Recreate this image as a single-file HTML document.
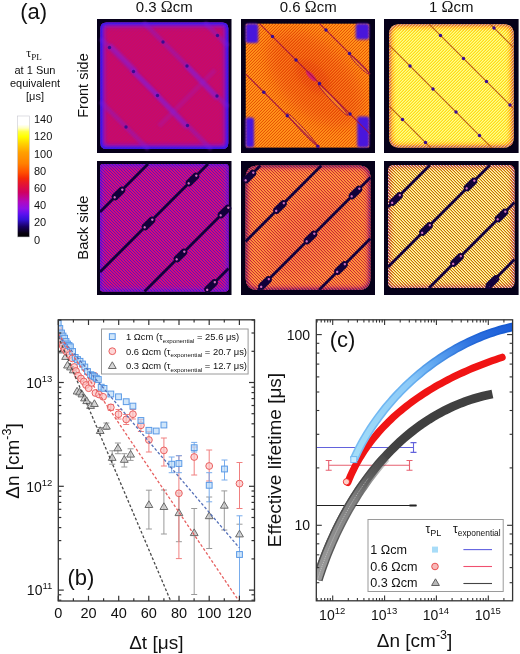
<!DOCTYPE html>
<html><head><meta charset="utf-8"><style>
html,body{margin:0;padding:0;background:#fff;}
svg{display:block;}
text{filter:none;}
.gs{will-change:transform;opacity:0.999;}
</style></head><body>
<svg class="gs" width="520" height="654" viewBox="0 0 520 654">
<defs>
<linearGradient id="cbar" x1="0" y1="1" x2="0" y2="0"><stop offset="0" stop-color="#000000"/><stop offset="0.03" stop-color="#06000f"/><stop offset="0.085" stop-color="#180060"/><stop offset="0.145" stop-color="#3412d8"/><stop offset="0.19" stop-color="#5c10f0"/><stop offset="0.235" stop-color="#8c10e8"/><stop offset="0.29" stop-color="#b008c0"/><stop offset="0.37" stop-color="#d00060"/><stop offset="0.45" stop-color="#e81828"/><stop offset="0.485" stop-color="#f42808"/><stop offset="0.535" stop-color="#ff5000"/><stop offset="0.608" stop-color="#ff8000"/><stop offset="0.7" stop-color="#ffa000"/><stop offset="0.77" stop-color="#ffd000"/><stop offset="0.83" stop-color="#ffff00"/><stop offset="0.87" stop-color="#ffff40"/><stop offset="0.9" stop-color="#ffffc0"/><stop offset="0.93" stop-color="#ffffff"/><stop offset="1" stop-color="#ffffff"/></linearGradient>
<filter id="b1" x="-20%" y="-20%" width="140%" height="140%"><feGaussianBlur stdDeviation="1"/></filter>
<filter id="b2" x="-20%" y="-20%" width="140%" height="140%"><feGaussianBlur stdDeviation="2"/></filter>
<filter id="b3" x="-20%" y="-20%" width="140%" height="140%"><feGaussianBlur stdDeviation="3"/></filter>
<filter id="b8" x="-50%" y="-50%" width="200%" height="200%"><feGaussianBlur stdDeviation="8"/></filter>
<filter id="b06" x="-20%" y="-20%" width="140%" height="140%"><feGaussianBlur stdDeviation="0.6"/></filter>
<pattern id="sf1" x="0" y="0" width="3" height="3" patternUnits="userSpaceOnUse"><rect x="0" y="0" width="1" height="1" fill="#8818c0" fill-opacity="0.12"/><rect x="1" y="2" width="1" height="1" fill="#8818c0" fill-opacity="0.12"/><rect x="2" y="1" width="1" height="1" fill="#8818c0" fill-opacity="0.12"/></pattern><pattern id="sf2" x="0" y="0" width="3" height="3" patternUnits="userSpaceOnUse"><rect x="0" y="0" width="1" height="1" fill="#e04000" fill-opacity="0.75"/><rect x="0" y="1" width="1" height="1" fill="#ffb030" fill-opacity="0.35"/><rect x="1" y="0" width="1" height="1" fill="#ffb030" fill-opacity="0.35"/><rect x="1" y="2" width="1" height="1" fill="#e04000" fill-opacity="0.75"/><rect x="2" y="1" width="1" height="1" fill="#e04000" fill-opacity="0.75"/><rect x="2" y="2" width="1" height="1" fill="#ffb030" fill-opacity="0.35"/></pattern><pattern id="sf3" x="0" y="0" width="3" height="3" patternUnits="userSpaceOnUse"><rect x="0" y="0" width="1" height="1" fill="#ffc400" fill-opacity="0.6"/><rect x="0" y="1" width="1" height="1" fill="#ffffc0" fill-opacity="0.6"/><rect x="1" y="0" width="1" height="1" fill="#ffffc0" fill-opacity="0.6"/><rect x="1" y="2" width="1" height="1" fill="#ffc400" fill-opacity="0.6"/><rect x="2" y="1" width="1" height="1" fill="#ffc400" fill-opacity="0.6"/><rect x="2" y="2" width="1" height="1" fill="#ffffc0" fill-opacity="0.6"/></pattern><pattern id="sb1" x="0" y="0" width="3" height="3" patternUnits="userSpaceOnUse"><rect x="0" y="0" width="1" height="1" fill="#4a10c8" fill-opacity="0.8"/><rect x="0" y="2" width="1" height="1" fill="#e01070" fill-opacity="0.45"/><rect x="1" y="0" width="1" height="1" fill="#e01070" fill-opacity="0.45"/><rect x="1" y="1" width="1" height="1" fill="#4a10c8" fill-opacity="0.8"/><rect x="2" y="1" width="1" height="1" fill="#e01070" fill-opacity="0.45"/><rect x="2" y="2" width="1" height="1" fill="#4a10c8" fill-opacity="0.8"/></pattern><pattern id="sb2" x="0" y="0" width="3" height="3" patternUnits="userSpaceOnUse"><rect x="0" y="0" width="1" height="1" fill="#c01438" fill-opacity="0.85"/><rect x="0" y="2" width="1" height="1" fill="#ffa850" fill-opacity="0.5"/><rect x="1" y="0" width="1" height="1" fill="#ffa850" fill-opacity="0.5"/><rect x="1" y="1" width="1" height="1" fill="#c01438" fill-opacity="0.85"/><rect x="2" y="1" width="1" height="1" fill="#ffa850" fill-opacity="0.5"/><rect x="2" y="2" width="1" height="1" fill="#c01438" fill-opacity="0.85"/></pattern><pattern id="sb3" x="0" y="0" width="3" height="3" patternUnits="userSpaceOnUse"><rect x="0" y="0" width="1" height="1" fill="#b86810" fill-opacity="0.95"/><rect x="0" y="2" width="1" height="1" fill="#fffce0" fill-opacity="0.8"/><rect x="1" y="0" width="1" height="1" fill="#fffce0" fill-opacity="0.8"/><rect x="1" y="1" width="1" height="1" fill="#b86810" fill-opacity="0.95"/><rect x="2" y="1" width="1" height="1" fill="#fffce0" fill-opacity="0.8"/><rect x="2" y="2" width="1" height="1" fill="#b86810" fill-opacity="0.95"/></pattern><clipPath id="cp0"><path d="M9.4,3.4 H125.30000000000001 Q131.3,3.4 131.3,9.4 V124.0 Q131.3,130.0 125.30000000000001,130.0 H9.4 Q3.4,130.0 3.4,124.0 V9.4 Q3.4,3.4 9.4,3.4 Z"/></clipPath><clipPath id="cp1"><path d="M5.8,4.8 H127.19999999999999 Q128.2,4.8 128.2,5.8 V127.5 Q128.2,128.5 127.19999999999999,128.5 H5.8 Q4.8,128.5 4.8,127.5 V5.8 Q4.8,4.8 5.8,4.8 Z"/></clipPath><clipPath id="cp2"><path d="M15.2,5.2 H119.6 Q129.6,5.2 129.6,15.2 V118.5 Q129.6,128.5 119.6,128.5 H15.2 Q5.2,128.5 5.2,118.5 V15.2 Q5.2,5.2 15.2,5.2 Z"/></clipPath><clipPath id="cp3"><path d="M6.0,3.0 H128.5 Q131.5,3.0 131.5,6.0 V127.5 Q131.5,130.5 128.5,130.5 H6.0 Q3.0,130.5 3.0,127.5 V6.0 Q3.0,3.0 6.0,3.0 Z"/></clipPath><clipPath id="cp4"><path d="M16.6,4.6 H117.4 Q129.4,4.6 129.4,16.6 V117.0 Q129.4,129.0 117.4,129.0 H16.6 Q4.6,129.0 4.6,117.0 V16.6 Q4.6,4.6 16.6,4.6 Z"/></clipPath><clipPath id="cp5"><path d="M10.0,4.0 H124.4 Q130.4,4.0 130.4,10.0 V121.0 Q130.4,127.0 124.4,127.0 H10.0 Q4.0,127.0 4.0,121.0 V10.0 Q4.0,4.0 10.0,4.0 Z"/></clipPath><linearGradient id="bgrad" gradientUnits="userSpaceOnUse" x1="354" y1="460" x2="512" y2="326"><stop offset="0" stop-color="#7cc0f4"/><stop offset="0.45" stop-color="#68b0f0"/><stop offset="0.62" stop-color="#4890e4"/><stop offset="0.8" stop-color="#2468d8"/><stop offset="1" stop-color="#1458d0"/></linearGradient><linearGradient id="bgrad2" gradientUnits="userSpaceOnUse" x1="354" y1="460" x2="512" y2="326"><stop offset="0" stop-color="#a4def8"/><stop offset="0.45" stop-color="#8ccaf8"/><stop offset="0.62" stop-color="#5aa2f0"/><stop offset="0.8" stop-color="#2e72e0"/><stop offset="1" stop-color="#1a5cd8"/></linearGradient><linearGradient id="ggrad" gradientUnits="userSpaceOnUse" x1="318" y1="575" x2="400" y2="440"><stop offset="0" stop-color="#606060"/><stop offset="0.6" stop-color="#505050"/><stop offset="1" stop-color="#404040"/></linearGradient><linearGradient id="ggrad3" gradientUnits="userSpaceOnUse" x1="318" y1="575" x2="400" y2="445"><stop offset="0" stop-color="#505050" stop-opacity="1"/><stop offset="0.6" stop-color="#4a4a4a" stop-opacity="0.8"/><stop offset="1" stop-color="#444" stop-opacity="0"/></linearGradient><linearGradient id="ggrad2" gradientUnits="userSpaceOnUse" x1="318" y1="575" x2="395" y2="445"><stop offset="0" stop-color="#9a9a9a" stop-opacity="1"/><stop offset="0.55" stop-color="#8a8a8a" stop-opacity="0.85"/><stop offset="1" stop-color="#505050" stop-opacity="0"/></linearGradient></defs>
<rect width="520" height="654" fill="#fff"/>
<g transform="translate(97,19)"><rect x="0" y="0" width="134.5" height="134" fill="#06001a"/><path d="M9.4,3.4 H125.30000000000001 Q131.3,3.4 131.3,9.4 V124.0 Q131.3,130.0 125.30000000000001,130.0 H9.4 Q3.4,130.0 3.4,124.0 V9.4 Q3.4,3.4 9.4,3.4 Z" fill="#c80a68"/><g clip-path="url(#cp0)"><path d="M9.4,3.4 H125.30000000000001 Q131.3,3.4 131.3,9.4 V124.0 Q131.3,130.0 125.30000000000001,130.0 H9.4 Q3.4,130.0 3.4,124.0 V9.4 Q3.4,3.4 9.4,3.4 Z" fill="none" stroke="#7418dc" stroke-width="8.16" filter="url(#b2)"/><path d="M9.4,3.4 H125.30000000000001 Q131.3,3.4 131.3,9.4 V124.0 Q131.3,130.0 125.30000000000001,130.0 H9.4 Q3.4,130.0 3.4,124.0 V9.4 Q3.4,3.4 9.4,3.4 Z" fill="none" stroke="#2a18ec" stroke-width="3.4" filter="url(#b1)"/><rect x="0" y="0" width="134.5" height="134" fill="url(#sf1)"/></g><line x1="59.8" y1="76.4" x2="89" y2="107.3" stroke="#8020e8" stroke-width="5" opacity="0.4" stroke-linecap="round" filter="url(#b1)"/><line x1="89.9" y1="47.2" x2="119.1" y2="78.2" stroke="#8020e8" stroke-width="5" opacity="0.4" stroke-linecap="round" filter="url(#b1)"/><line x1="14" y1="27" x2="38" y2="51" stroke="#8020e8" stroke-width="5" opacity="0.4" stroke-linecap="round" filter="url(#b1)"/><line x1="36" y1="52" x2="60" y2="76" stroke="#8020e8" stroke-width="5" opacity="0.4" stroke-linecap="round" filter="url(#b1)"/><line x1="62" y1="107" x2="118" y2="51" stroke="#8a20e0" stroke-width="5" opacity="0.22" filter="url(#b1)"/><line x1="3.4" y1="82.4" x2="51.6" y2="130.6" stroke="#7a1ce0" stroke-width="4.5" opacity="0.38" filter="url(#b1)"/><circle cx="29.0" cy="108.0" r="1.7" fill="#3a0c90"/><line x1="3.4" y1="19.4" x2="114.6" y2="130.6" stroke="#7a1ce0" stroke-width="4.5" opacity="0.38" filter="url(#b1)"/><circle cx="12.5" cy="28.5" r="1.7" fill="#3a0c90"/><circle cx="36.5" cy="52.5" r="1.7" fill="#3a0c90"/><circle cx="60.5" cy="76.5" r="1.7" fill="#3a0c90"/><circle cx="90.5" cy="106.5" r="1.7" fill="#3a0c90"/><line x1="46.4" y1="3.4" x2="131.1" y2="88.1" stroke="#7a1ce0" stroke-width="4.5" opacity="0.38" filter="url(#b1)"/><circle cx="66.0" cy="23.0" r="1.7" fill="#3a0c90"/><circle cx="90.0" cy="47.0" r="1.7" fill="#3a0c90"/><circle cx="120.0" cy="77.0" r="1.7" fill="#3a0c90"/><line x1="107.4" y1="3.4" x2="131.1" y2="27.1" stroke="#7a1ce0" stroke-width="4.5" opacity="0.38" filter="url(#b1)"/><circle cx="120.5" cy="16.5" r="1.7" fill="#3a0c90"/></g><g transform="translate(241,19)"><rect x="0" y="0" width="134" height="134" fill="#06001a"/><path d="M5.8,4.8 H127.19999999999999 Q128.2,4.8 128.2,5.8 V127.5 Q128.2,128.5 127.19999999999999,128.5 H5.8 Q4.8,128.5 4.8,127.5 V5.8 Q4.8,4.8 5.8,4.8 Z" fill="#ff8a14"/><g clip-path="url(#cp1)"><ellipse cx="74" cy="60" rx="60" ry="34" transform="rotate(45 74 60)" fill="#e83010" opacity="0.5" filter="url(#b8)"/><ellipse cx="72" cy="58" rx="22" ry="12" transform="rotate(45 72 58)" fill="#e02810" opacity="0.45" filter="url(#b3)"/><rect x="0" y="0" width="134" height="134" fill="url(#sf2)"/></g><ellipse cx="92.1" cy="81.0" rx="21.2" ry="1.7" transform="rotate(46.5 92.1 81.0)" fill="#ffa030" fill-opacity="0.5" stroke="#a01840" stroke-width="0.9"/><ellipse cx="60.9" cy="110.2" rx="22.0" ry="1.7" transform="rotate(47.1 60.9 110.2)" fill="#ffa030" fill-opacity="0.5" stroke="#a01840" stroke-width="0.9"/><ellipse cx="118.8" cy="45.8" rx="13.1" ry="1.7" transform="rotate(45.0 118.8 45.8)" fill="#ffa030" fill-opacity="0.5" stroke="#a01840" stroke-width="0.9"/><ellipse cx="70" cy="57" rx="7" ry="2.6" transform="rotate(47 70 57)" fill="#d01880" opacity="0.8" filter="url(#b06)"/><rect x="4.5" y="4.5" width="12.7" height="19.5" rx="2.5" fill="#4a18dc" filter="url(#b1)"/><rect x="114.69999999999999" y="4.5" width="13.5" height="16" rx="2.5" fill="#4a18dc" filter="url(#b1)"/><rect x="4.5" y="98.5" width="8.5" height="30" rx="2.5" fill="#4a18dc" filter="url(#b1)"/><rect x="116.19999999999999" y="97.5" width="12" height="31" rx="2.5" fill="#4a18dc" filter="url(#b1)"/><line x1="4.8" y1="55.2" x2="78.8" y2="129.2" stroke="#a01040" stroke-width="1.1" opacity="0.9"/><circle cx="22.8" cy="73.2" r="1.7" fill="#3a0c90"/><circle cx="46.3" cy="96.7" r="1.7" fill="#3a0c90"/><circle cx="76.8" cy="127.2" r="1.7" fill="#3a0c90"/><line x1="18.8" y1="4.8" x2="129.2" y2="115.2" stroke="#a01040" stroke-width="1.1" opacity="0.9"/><circle cx="31.5" cy="17.5" r="1.7" fill="#3a0c90"/><circle cx="55.0" cy="41.0" r="1.7" fill="#3a0c90"/><circle cx="78.5" cy="64.5" r="1.7" fill="#3a0c90"/><circle cx="109.0" cy="95.0" r="1.7" fill="#3a0c90"/><line x1="78.8" y1="4.8" x2="129.2" y2="55.2" stroke="#a01040" stroke-width="1.1" opacity="0.9"/><circle cx="85.0" cy="11.0" r="1.7" fill="#3a0c90"/><circle cx="108.5" cy="34.5" r="1.7" fill="#3a0c90"/></g><g transform="translate(384,19)"><rect x="0" y="0" width="134.6" height="134" fill="#06001a"/><path d="M15.2,5.2 H119.6 Q129.6,5.2 129.6,15.2 V118.5 Q129.6,128.5 119.6,128.5 H15.2 Q5.2,128.5 5.2,118.5 V15.2 Q5.2,5.2 15.2,5.2 Z" fill="#fff448"/><g clip-path="url(#cp2)"><path d="M15.2,5.2 H119.6 Q129.6,5.2 129.6,15.2 V118.5 Q129.6,128.5 119.6,128.5 H15.2 Q5.2,128.5 5.2,118.5 V15.2 Q5.2,5.2 15.2,5.2 Z" fill="none" stroke="#ff8010" stroke-width="7.68" filter="url(#b2)"/><path d="M15.2,5.2 H119.6 Q129.6,5.2 129.6,15.2 V118.5 Q129.6,128.5 119.6,128.5 H15.2 Q5.2,128.5 5.2,118.5 V15.2 Q5.2,5.2 15.2,5.2 Z" fill="none" stroke="#8018b0" stroke-width="1.7600000000000002" filter="url(#b1)"/><rect x="0" y="0" width="134.6" height="134" fill="url(#sf3)"/></g><line x1="5.2" y1="87.2" x2="46.8" y2="128.8" stroke="#b05010" stroke-width="1.1" opacity="0.9"/><circle cx="18.5" cy="100.5" r="1.7" fill="#3a0c90"/><circle cx="41.5" cy="123.5" r="1.7" fill="#3a0c90"/><line x1="5.2" y1="26.2" x2="107.8" y2="128.8" stroke="#b05010" stroke-width="1.1" opacity="0.9"/><circle cx="26.0" cy="47.0" r="1.7" fill="#3a0c90"/><circle cx="49.0" cy="70.0" r="1.7" fill="#3a0c90"/><circle cx="72.0" cy="93.0" r="1.7" fill="#3a0c90"/><circle cx="95.5" cy="116.5" r="1.7" fill="#3a0c90"/><line x1="45.2" y1="5.2" x2="129.4" y2="89.4" stroke="#b05010" stroke-width="1.1" opacity="0.9"/><circle cx="56.5" cy="16.5" r="1.7" fill="#3a0c90"/><circle cx="79.5" cy="39.5" r="1.7" fill="#3a0c90"/><circle cx="102.5" cy="62.5" r="1.7" fill="#3a0c90"/><circle cx="126.0" cy="86.0" r="1.7" fill="#3a0c90"/><line x1="106.2" y1="5.2" x2="129.4" y2="28.4" stroke="#b05010" stroke-width="1.1" opacity="0.9"/><circle cx="110.0" cy="9.0" r="1.7" fill="#3a0c90"/></g><g transform="translate(97,161)"><rect x="0" y="0" width="134.5" height="134" fill="#06001a"/><path d="M6.0,3.0 H128.5 Q131.5,3.0 131.5,6.0 V127.5 Q131.5,130.5 128.5,130.5 H6.0 Q3.0,130.5 3.0,127.5 V6.0 Q3.0,3.0 6.0,3.0 Z" fill="#d00c7c"/><g clip-path="url(#cp3)"><path d="M6.0,3.0 H128.5 Q131.5,3.0 131.5,6.0 V127.5 Q131.5,130.5 128.5,130.5 H6.0 Q3.0,130.5 3.0,127.5 V6.0 Q3.0,3.0 6.0,3.0 Z" fill="none" stroke="#8a14d8" stroke-width="6.0" filter="url(#b2)"/><path d="M6.0,3.0 H128.5 Q131.5,3.0 131.5,6.0 V127.5 Q131.5,130.5 128.5,130.5 H6.0 Q3.0,130.5 3.0,127.5 V6.0 Q3.0,3.0 6.0,3.0 Z" fill="none" stroke="#5a10e0" stroke-width="2.5" filter="url(#b1)"/><rect x="0" y="0" width="134.5" height="134" fill="url(#sb1)"/></g><line x1="3.0" y1="51.0" x2="51.0" y2="3.0" stroke="#12003c" stroke-width="2.8"/><g transform="translate(21.5,32.5) rotate(-45)"><rect x="-8" y="-3.5" width="16" height="7" rx="3.3" fill="#12003a"/><circle cx="-5.4" cy="0" r="1.2" fill="#d070c0"/><circle cx="5.4" cy="0" r="1.2" fill="#d070c0"/></g><line x1="3.0" y1="111.0" x2="111.0" y2="3.0" stroke="#12003c" stroke-width="2.8"/><g transform="translate(51.5,62.5) rotate(-45)"><rect x="-8" y="-3.5" width="16" height="7" rx="3.3" fill="#12003a"/><circle cx="-5.4" cy="0" r="1.2" fill="#d070c0"/><circle cx="5.4" cy="0" r="1.2" fill="#d070c0"/></g><g transform="translate(95.5,18.5) rotate(-45)"><rect x="-8" y="-3.5" width="16" height="7" rx="3.3" fill="#12003a"/><circle cx="-5.4" cy="0" r="1.2" fill="#d070c0"/><circle cx="5.4" cy="0" r="1.2" fill="#d070c0"/></g><line x1="47.5" y1="130.5" x2="131.5" y2="46.5" stroke="#12003c" stroke-width="2.8"/><g transform="translate(83.5,94.5) rotate(-45)"><rect x="-8" y="-3.5" width="16" height="7" rx="3.3" fill="#12003a"/><circle cx="-5.4" cy="0" r="1.2" fill="#d070c0"/><circle cx="5.4" cy="0" r="1.2" fill="#d070c0"/></g><g transform="translate(127.5,50.5) rotate(-45)"><rect x="-8" y="-3.5" width="16" height="7" rx="3.3" fill="#12003a"/><circle cx="-5.4" cy="0" r="1.2" fill="#d070c0"/><circle cx="5.4" cy="0" r="1.2" fill="#d070c0"/></g><line x1="108.5" y1="130.5" x2="131.5" y2="107.5" stroke="#12003c" stroke-width="2.8"/><g transform="translate(114.0,125.0) rotate(-45)"><rect x="-8" y="-3.5" width="16" height="7" rx="3.3" fill="#12003a"/><circle cx="-5.4" cy="0" r="1.2" fill="#d070c0"/><circle cx="5.4" cy="0" r="1.2" fill="#d070c0"/></g></g><g transform="translate(241,161)"><rect x="0" y="0" width="134" height="134" fill="#06001a"/><path d="M16.6,4.6 H117.4 Q129.4,4.6 129.4,16.6 V117.0 Q129.4,129.0 117.4,129.0 H16.6 Q4.6,129.0 4.6,117.0 V16.6 Q4.6,4.6 16.6,4.6 Z" fill="#ff8c34"/><g clip-path="url(#cp4)"><path d="M16.6,4.6 H117.4 Q129.4,4.6 129.4,16.6 V117.0 Q129.4,129.0 117.4,129.0 H16.6 Q4.6,129.0 4.6,117.0 V16.6 Q4.6,4.6 16.6,4.6 Z" fill="none" stroke="#c02070" stroke-width="6.0" filter="url(#b2)"/><path d="M16.6,4.6 H117.4 Q129.4,4.6 129.4,16.6 V117.0 Q129.4,129.0 117.4,129.0 H16.6 Q4.6,129.0 4.6,117.0 V16.6 Q4.6,4.6 16.6,4.6 Z" fill="none" stroke="#3a0c70" stroke-width="2.5" filter="url(#b1)"/><ellipse cx="66" cy="74" rx="50" ry="30" transform="rotate(-45 66 74)" fill="#e02048" opacity="0.22" filter="url(#b8)"/><rect x="0" y="0" width="134" height="134" fill="url(#sb2)"/></g><line x1="4.6" y1="19.4" x2="19.4" y2="4.6" stroke="#12003c" stroke-width="2.8"/><g transform="translate(8.5,15.5) rotate(-45)"><rect x="-8" y="-3.5" width="16" height="7" rx="3.3" fill="#12003a"/><circle cx="-5.4" cy="0" r="1.2" fill="#d070c0"/><circle cx="5.4" cy="0" r="1.2" fill="#d070c0"/></g><line x1="4.6" y1="80.4" x2="80.4" y2="4.6" stroke="#12003c" stroke-width="2.8"/><g transform="translate(39.0,46.0) rotate(-45)"><rect x="-8" y="-3.5" width="16" height="7" rx="3.3" fill="#12003a"/><circle cx="-5.4" cy="0" r="1.2" fill="#d070c0"/><circle cx="5.4" cy="0" r="1.2" fill="#d070c0"/></g><line x1="17.0" y1="129.0" x2="129.4" y2="16.6" stroke="#12003c" stroke-width="2.8"/><g transform="translate(24.0,122.0) rotate(-45)"><rect x="-8" y="-3.5" width="16" height="7" rx="3.3" fill="#12003a"/><circle cx="-5.4" cy="0" r="1.2" fill="#d070c0"/><circle cx="5.4" cy="0" r="1.2" fill="#d070c0"/></g><g transform="translate(69.5,76.5) rotate(-45)"><rect x="-8" y="-3.5" width="16" height="7" rx="3.3" fill="#12003a"/><circle cx="-5.4" cy="0" r="1.2" fill="#d070c0"/><circle cx="5.4" cy="0" r="1.2" fill="#d070c0"/></g><g transform="translate(114.5,31.5) rotate(-45)"><rect x="-8" y="-3.5" width="16" height="7" rx="3.3" fill="#12003a"/><circle cx="-5.4" cy="0" r="1.2" fill="#d070c0"/><circle cx="5.4" cy="0" r="1.2" fill="#d070c0"/></g><line x1="78.0" y1="129.0" x2="129.4" y2="77.6" stroke="#12003c" stroke-width="2.8"/><g transform="translate(100.0,107.0) rotate(-45)"><rect x="-8" y="-3.5" width="16" height="7" rx="3.3" fill="#12003a"/><circle cx="-5.4" cy="0" r="1.2" fill="#d070c0"/><circle cx="5.4" cy="0" r="1.2" fill="#d070c0"/></g></g><g transform="translate(384,161)"><rect x="0" y="0" width="134.6" height="134" fill="#06001a"/><path d="M10.0,4.0 H124.4 Q130.4,4.0 130.4,10.0 V121.0 Q130.4,127.0 124.4,127.0 H10.0 Q4.0,127.0 4.0,121.0 V10.0 Q4.0,4.0 10.0,4.0 Z" fill="#ffd848"/><g clip-path="url(#cp5)"><path d="M10.0,4.0 H124.4 Q130.4,4.0 130.4,10.0 V121.0 Q130.4,127.0 124.4,127.0 H10.0 Q4.0,127.0 4.0,121.0 V10.0 Q4.0,4.0 10.0,4.0 Z" fill="none" stroke="#e85020" stroke-width="7.199999999999999" filter="url(#b2)"/><path d="M10.0,4.0 H124.4 Q130.4,4.0 130.4,10.0 V121.0 Q130.4,127.0 124.4,127.0 H10.0 Q4.0,127.0 4.0,121.0 V10.0 Q4.0,4.0 10.0,4.0 Z" fill="none" stroke="#6a18e0" stroke-width="1.6500000000000001" filter="url(#b1)"/><rect x="0" y="0" width="134.6" height="134" fill="url(#sb3)"/></g><g transform="translate(108.5,121) rotate(-45)"><rect x="-8" y="-3.5" width="16" height="7" rx="3.3" fill="#12003a"/><circle cx="-5.4" cy="0" r="1.2" fill="#d070c0"/><circle cx="5.4" cy="0" r="1.2" fill="#d070c0"/></g><line x1="4.0" y1="46.0" x2="46.0" y2="4.0" stroke="#12003c" stroke-width="2.8"/><g transform="translate(12.0,38.0) rotate(-45)"><rect x="-8" y="-3.5" width="16" height="7" rx="3.3" fill="#12003a"/><circle cx="-5.4" cy="0" r="1.2" fill="#d070c0"/><circle cx="5.4" cy="0" r="1.2" fill="#d070c0"/></g><line x1="4.0" y1="106.0" x2="106.0" y2="4.0" stroke="#12003c" stroke-width="2.8"/><g transform="translate(42.0,68.0) rotate(-45)"><rect x="-8" y="-3.5" width="16" height="7" rx="3.3" fill="#12003a"/><circle cx="-5.4" cy="0" r="1.2" fill="#d070c0"/><circle cx="5.4" cy="0" r="1.2" fill="#d070c0"/></g><g transform="translate(86.5,23.5) rotate(-45)"><rect x="-8" y="-3.5" width="16" height="7" rx="3.3" fill="#12003a"/><circle cx="-5.4" cy="0" r="1.2" fill="#d070c0"/><circle cx="5.4" cy="0" r="1.2" fill="#d070c0"/></g><line x1="45.0" y1="127.0" x2="130.4" y2="41.6" stroke="#12003c" stroke-width="2.8"/><g transform="translate(73.0,99.0) rotate(-45)"><rect x="-8" y="-3.5" width="16" height="7" rx="3.3" fill="#12003a"/><circle cx="-5.4" cy="0" r="1.2" fill="#d070c0"/><circle cx="5.4" cy="0" r="1.2" fill="#d070c0"/></g><g transform="translate(117.5,54.5) rotate(-45)"><rect x="-8" y="-3.5" width="16" height="7" rx="3.3" fill="#12003a"/><circle cx="-5.4" cy="0" r="1.2" fill="#d070c0"/><circle cx="5.4" cy="0" r="1.2" fill="#d070c0"/></g><line x1="102.0" y1="127.0" x2="130.4" y2="98.6" stroke="#12003c" stroke-width="2.8"/></g>
<text x="20.2" y="18.9" font-family="Liberation Sans, sans-serif" font-size="22" fill="#111">(a)</text><text x="164.3" y="12" font-family="Liberation Sans, sans-serif" font-size="15" fill="#111" text-anchor="middle">0.3 <tspan font-family="Liberation Serif, serif" font-size="16">Ω</tspan>cm</text><text x="308.2" y="12" font-family="Liberation Sans, sans-serif" font-size="15" fill="#111" text-anchor="middle">0.6 <tspan font-family="Liberation Serif, serif" font-size="16">Ω</tspan>cm</text><text x="451.3" y="12" font-family="Liberation Sans, sans-serif" font-size="15" fill="#111" text-anchor="middle">1 <tspan font-family="Liberation Serif, serif" font-size="16">Ω</tspan>cm</text><text transform="translate(88,85.5) rotate(-90)" font-family="Liberation Sans, sans-serif" font-size="14.5" fill="#111" text-anchor="middle">Front side</text><text transform="translate(88,227.6) rotate(-90)" font-family="Liberation Sans, sans-serif" font-size="14.8" fill="#111" text-anchor="middle">Back side</text><text x="26.3" y="57.2" font-family="Liberation Serif, serif" font-size="12" fill="#111">τ<tspan font-size="9" dy="3">PL</tspan></text><text x="35" y="73.6" font-family="Liberation Sans, sans-serif" font-size="11" fill="#111" text-anchor="middle">at 1 Sun</text><text x="35" y="86.6" font-family="Liberation Sans, sans-serif" font-size="11" fill="#111" text-anchor="middle">equivalent</text><text x="35" y="99.6" font-family="Liberation Sans, sans-serif" font-size="11" fill="#111" text-anchor="middle">[μs]</text><rect x="17.5" y="116" width="12" height="121" fill="url(#cbar)"/><rect x="17.5" y="116" width="12" height="121" fill="none" stroke="#c8c8d0" stroke-width="0.6"/><text x="34" y="243.5" font-family="Liberation Sans, sans-serif" font-size="11" fill="#111">0</text><text x="34" y="226.3" font-family="Liberation Sans, sans-serif" font-size="11" fill="#111">20</text><text x="34" y="209.1" font-family="Liberation Sans, sans-serif" font-size="11" fill="#111">40</text><text x="34" y="191.9" font-family="Liberation Sans, sans-serif" font-size="11" fill="#111">60</text><text x="34" y="174.7" font-family="Liberation Sans, sans-serif" font-size="11" fill="#111">80</text><text x="34" y="157.5" font-family="Liberation Sans, sans-serif" font-size="11" fill="#111">100</text><text x="34" y="140.3" font-family="Liberation Sans, sans-serif" font-size="11" fill="#111">120</text><text x="34" y="123.1" font-family="Liberation Sans, sans-serif" font-size="11" fill="#111">140</text>
<clipPath id="bclip"><rect x="58.3" y="319.8" width="196.2" height="281.2"/></clipPath><g clip-path="url(#bclip)"><line x1="100.2" y1="427.5" x2="100.2" y2="433.5" stroke="#9a9a9a" stroke-width="1"/><line x1="97.2" y1="427.5" x2="103.2" y2="427.5" stroke="#9a9a9a" stroke-width="1"/><line x1="97.2" y1="433.5" x2="103.2" y2="433.5" stroke="#9a9a9a" stroke-width="1"/><line x1="106.4" y1="423.0" x2="106.4" y2="429.5" stroke="#9a9a9a" stroke-width="1"/><line x1="103.4" y1="423.0" x2="109.4" y2="423.0" stroke="#9a9a9a" stroke-width="1"/><line x1="103.4" y1="429.5" x2="109.4" y2="429.5" stroke="#9a9a9a" stroke-width="1"/><line x1="112.2" y1="450.8" x2="112.2" y2="464.2" stroke="#9a9a9a" stroke-width="1"/><line x1="109.2" y1="450.8" x2="115.2" y2="450.8" stroke="#9a9a9a" stroke-width="1"/><line x1="109.2" y1="464.2" x2="115.2" y2="464.2" stroke="#9a9a9a" stroke-width="1"/><line x1="117.9" y1="443.0" x2="117.9" y2="453.7" stroke="#9a9a9a" stroke-width="1"/><line x1="114.9" y1="443.0" x2="120.9" y2="443.0" stroke="#9a9a9a" stroke-width="1"/><line x1="114.9" y1="453.7" x2="120.9" y2="453.7" stroke="#9a9a9a" stroke-width="1"/><line x1="124.3" y1="453.7" x2="124.3" y2="467.0" stroke="#9a9a9a" stroke-width="1"/><line x1="121.3" y1="453.7" x2="127.3" y2="453.7" stroke="#9a9a9a" stroke-width="1"/><line x1="121.3" y1="467.0" x2="127.3" y2="467.0" stroke="#9a9a9a" stroke-width="1"/><line x1="130.6" y1="448.8" x2="130.6" y2="460.4" stroke="#9a9a9a" stroke-width="1"/><line x1="127.6" y1="448.8" x2="133.6" y2="448.8" stroke="#9a9a9a" stroke-width="1"/><line x1="127.6" y1="460.4" x2="133.6" y2="460.4" stroke="#9a9a9a" stroke-width="1"/><line x1="148.9" y1="490.2" x2="148.9" y2="529.0" stroke="#9a9a9a" stroke-width="1"/><line x1="145.9" y1="490.2" x2="151.9" y2="490.2" stroke="#9a9a9a" stroke-width="1"/><line x1="145.9" y1="529.0" x2="151.9" y2="529.0" stroke="#9a9a9a" stroke-width="1"/><line x1="163.9" y1="490.0" x2="163.9" y2="534.0" stroke="#9a9a9a" stroke-width="1"/><line x1="160.9" y1="490.0" x2="166.9" y2="490.0" stroke="#9a9a9a" stroke-width="1"/><line x1="160.9" y1="534.0" x2="166.9" y2="534.0" stroke="#9a9a9a" stroke-width="1"/><line x1="178.9" y1="493.0" x2="178.9" y2="541.7" stroke="#9a9a9a" stroke-width="1"/><line x1="175.9" y1="493.0" x2="181.9" y2="493.0" stroke="#9a9a9a" stroke-width="1"/><line x1="175.9" y1="541.7" x2="181.9" y2="541.7" stroke="#9a9a9a" stroke-width="1"/><line x1="194.2" y1="508.5" x2="194.2" y2="594.5" stroke="#9a9a9a" stroke-width="1"/><line x1="191.2" y1="508.5" x2="197.2" y2="508.5" stroke="#9a9a9a" stroke-width="1"/><line x1="191.2" y1="594.5" x2="197.2" y2="594.5" stroke="#9a9a9a" stroke-width="1"/><line x1="209.2" y1="497.0" x2="209.2" y2="548.5" stroke="#9a9a9a" stroke-width="1"/><line x1="206.2" y1="497.0" x2="212.2" y2="497.0" stroke="#9a9a9a" stroke-width="1"/><line x1="206.2" y1="548.5" x2="212.2" y2="548.5" stroke="#9a9a9a" stroke-width="1"/><line x1="224.3" y1="490.9" x2="224.3" y2="530.0" stroke="#9a9a9a" stroke-width="1"/><line x1="221.3" y1="490.9" x2="227.3" y2="490.9" stroke="#9a9a9a" stroke-width="1"/><line x1="221.3" y1="530.0" x2="227.3" y2="530.0" stroke="#9a9a9a" stroke-width="1"/><line x1="239.5" y1="524.2" x2="239.5" y2="601.0" stroke="#9a9a9a" stroke-width="1"/><line x1="236.5" y1="524.2" x2="242.5" y2="524.2" stroke="#9a9a9a" stroke-width="1"/><line x1="110.8" y1="404.4" x2="110.8" y2="410.4" stroke="#f08080" stroke-width="1"/><line x1="107.8" y1="404.4" x2="113.8" y2="404.4" stroke="#f08080" stroke-width="1"/><line x1="107.8" y1="410.4" x2="113.8" y2="410.4" stroke="#f08080" stroke-width="1"/><line x1="118.5" y1="409.5" x2="118.5" y2="419.0" stroke="#f08080" stroke-width="1"/><line x1="115.5" y1="409.5" x2="121.5" y2="409.5" stroke="#f08080" stroke-width="1"/><line x1="115.5" y1="419.0" x2="121.5" y2="419.0" stroke="#f08080" stroke-width="1"/><line x1="126.2" y1="414.5" x2="126.2" y2="424.5" stroke="#f08080" stroke-width="1"/><line x1="123.2" y1="414.5" x2="129.2" y2="414.5" stroke="#f08080" stroke-width="1"/><line x1="123.2" y1="424.5" x2="129.2" y2="424.5" stroke="#f08080" stroke-width="1"/><line x1="132.9" y1="409.5" x2="132.9" y2="419.0" stroke="#f08080" stroke-width="1"/><line x1="129.9" y1="409.5" x2="135.9" y2="409.5" stroke="#f08080" stroke-width="1"/><line x1="129.9" y1="419.0" x2="135.9" y2="419.0" stroke="#f08080" stroke-width="1"/><line x1="140.9" y1="419.5" x2="140.9" y2="431.5" stroke="#f08080" stroke-width="1"/><line x1="137.9" y1="419.5" x2="143.9" y2="419.5" stroke="#f08080" stroke-width="1"/><line x1="137.9" y1="431.5" x2="143.9" y2="431.5" stroke="#f08080" stroke-width="1"/><line x1="148.9" y1="431.5" x2="148.9" y2="452.0" stroke="#f08080" stroke-width="1"/><line x1="145.9" y1="431.5" x2="151.9" y2="431.5" stroke="#f08080" stroke-width="1"/><line x1="145.9" y1="452.0" x2="151.9" y2="452.0" stroke="#f08080" stroke-width="1"/><line x1="163.9" y1="438.0" x2="163.9" y2="466.0" stroke="#f08080" stroke-width="1"/><line x1="160.9" y1="438.0" x2="166.9" y2="438.0" stroke="#f08080" stroke-width="1"/><line x1="160.9" y1="466.0" x2="166.9" y2="466.0" stroke="#f08080" stroke-width="1"/><line x1="178.9" y1="455.7" x2="178.9" y2="558.6" stroke="#f08080" stroke-width="1"/><line x1="175.9" y1="455.7" x2="181.9" y2="455.7" stroke="#f08080" stroke-width="1"/><line x1="175.9" y1="558.6" x2="181.9" y2="558.6" stroke="#f08080" stroke-width="1"/><line x1="194.2" y1="447.0" x2="194.2" y2="475.0" stroke="#f08080" stroke-width="1"/><line x1="191.2" y1="447.0" x2="197.2" y2="447.0" stroke="#f08080" stroke-width="1"/><line x1="191.2" y1="475.0" x2="197.2" y2="475.0" stroke="#f08080" stroke-width="1"/><line x1="209.2" y1="450.0" x2="209.2" y2="481.0" stroke="#f08080" stroke-width="1"/><line x1="206.2" y1="450.0" x2="212.2" y2="450.0" stroke="#f08080" stroke-width="1"/><line x1="206.2" y1="481.0" x2="212.2" y2="481.0" stroke="#f08080" stroke-width="1"/><line x1="239.5" y1="462.5" x2="239.5" y2="508.5" stroke="#f08080" stroke-width="1"/><line x1="236.5" y1="462.5" x2="242.5" y2="462.5" stroke="#f08080" stroke-width="1"/><line x1="236.5" y1="508.5" x2="242.5" y2="508.5" stroke="#f08080" stroke-width="1"/><line x1="171.7" y1="457.0" x2="171.7" y2="472.7" stroke="#78acec" stroke-width="1"/><line x1="168.7" y1="457.0" x2="174.7" y2="457.0" stroke="#78acec" stroke-width="1"/><line x1="168.7" y1="472.7" x2="174.7" y2="472.7" stroke="#78acec" stroke-width="1"/><line x1="178.9" y1="455.7" x2="178.9" y2="472.7" stroke="#78acec" stroke-width="1"/><line x1="175.9" y1="455.7" x2="181.9" y2="455.7" stroke="#78acec" stroke-width="1"/><line x1="175.9" y1="472.7" x2="181.9" y2="472.7" stroke="#78acec" stroke-width="1"/><line x1="194.2" y1="442.4" x2="194.2" y2="452.0" stroke="#78acec" stroke-width="1"/><line x1="191.2" y1="442.4" x2="197.2" y2="442.4" stroke="#78acec" stroke-width="1"/><line x1="191.2" y1="452.0" x2="197.2" y2="452.0" stroke="#78acec" stroke-width="1"/><line x1="209.2" y1="472.7" x2="209.2" y2="501.8" stroke="#78acec" stroke-width="1"/><line x1="206.2" y1="472.7" x2="212.2" y2="472.7" stroke="#78acec" stroke-width="1"/><line x1="206.2" y1="501.8" x2="212.2" y2="501.8" stroke="#78acec" stroke-width="1"/><line x1="224.5" y1="460.0" x2="224.5" y2="480.0" stroke="#78acec" stroke-width="1"/><line x1="221.5" y1="460.0" x2="227.5" y2="460.0" stroke="#78acec" stroke-width="1"/><line x1="221.5" y1="480.0" x2="227.5" y2="480.0" stroke="#78acec" stroke-width="1"/><line x1="239.5" y1="515.8" x2="239.5" y2="601.0" stroke="#78acec" stroke-width="1"/><line x1="236.5" y1="515.8" x2="242.5" y2="515.8" stroke="#78acec" stroke-width="1"/><path d="M58.5,331.2 L62.4,337.9 L54.6,337.9 Z" fill="#c4c4c4" fill-opacity="0.7" stroke="#6a6a6a" stroke-width="1" stroke-linejoin="round"/><path d="M60.8,339.2 L64.7,345.9 L56.9,345.9 Z" fill="#c4c4c4" fill-opacity="0.7" stroke="#6a6a6a" stroke-width="1" stroke-linejoin="round"/><path d="M63.0,346.2 L66.9,352.9 L59.1,352.9 Z" fill="#c4c4c4" fill-opacity="0.7" stroke="#6a6a6a" stroke-width="1" stroke-linejoin="round"/><path d="M65.6,352.7 L69.5,359.4 L61.7,359.4 Z" fill="#c4c4c4" fill-opacity="0.7" stroke="#6a6a6a" stroke-width="1" stroke-linejoin="round"/><path d="M67.5,361.3 L71.4,368.0 L63.6,368.0 Z" fill="#c4c4c4" fill-opacity="0.7" stroke="#6a6a6a" stroke-width="1" stroke-linejoin="round"/><path d="M70.5,363.2 L74.4,369.9 L66.6,369.9 Z" fill="#c4c4c4" fill-opacity="0.7" stroke="#6a6a6a" stroke-width="1" stroke-linejoin="round"/><path d="M73.3,366.1 L77.2,372.8 L69.4,372.8 Z" fill="#c4c4c4" fill-opacity="0.7" stroke="#6a6a6a" stroke-width="1" stroke-linejoin="round"/><path d="M77.1,387.3 L81.0,394.0 L73.2,394.0 Z" fill="#c4c4c4" fill-opacity="0.7" stroke="#6a6a6a" stroke-width="1" stroke-linejoin="round"/><path d="M79.5,388.2 L83.4,394.9 L75.6,394.9 Z" fill="#c4c4c4" fill-opacity="0.7" stroke="#6a6a6a" stroke-width="1" stroke-linejoin="round"/><path d="M81.9,390.2 L85.8,396.9 L78.0,396.9 Z" fill="#c4c4c4" fill-opacity="0.7" stroke="#6a6a6a" stroke-width="1" stroke-linejoin="round"/><path d="M84.5,394.2 L88.4,400.9 L80.6,400.9 Z" fill="#c4c4c4" fill-opacity="0.7" stroke="#6a6a6a" stroke-width="1" stroke-linejoin="round"/><path d="M86.7,396.9 L90.6,403.6 L82.8,403.6 Z" fill="#c4c4c4" fill-opacity="0.7" stroke="#6a6a6a" stroke-width="1" stroke-linejoin="round"/><path d="M90.6,401.7 L94.5,408.4 L86.7,408.4 Z" fill="#c4c4c4" fill-opacity="0.7" stroke="#6a6a6a" stroke-width="1" stroke-linejoin="round"/><path d="M94.4,399.8 L98.3,406.5 L90.5,406.5 Z" fill="#c4c4c4" fill-opacity="0.7" stroke="#6a6a6a" stroke-width="1" stroke-linejoin="round"/><path d="M100.2,426.8 L104.1,433.5 L96.3,433.5 Z" fill="#c4c4c4" fill-opacity="0.7" stroke="#6a6a6a" stroke-width="1" stroke-linejoin="round"/><path d="M106.4,422.4 L110.3,429.1 L102.5,429.1 Z" fill="#c4c4c4" fill-opacity="0.7" stroke="#6a6a6a" stroke-width="1" stroke-linejoin="round"/><path d="M112.2,453.7 L116.1,460.4 L108.3,460.4 Z" fill="#c4c4c4" fill-opacity="0.7" stroke="#6a6a6a" stroke-width="1" stroke-linejoin="round"/><path d="M117.9,444.1 L121.8,450.8 L114.0,450.8 Z" fill="#c4c4c4" fill-opacity="0.7" stroke="#6a6a6a" stroke-width="1" stroke-linejoin="round"/><path d="M124.3,455.6 L128.2,462.3 L120.4,462.3 Z" fill="#c4c4c4" fill-opacity="0.7" stroke="#6a6a6a" stroke-width="1" stroke-linejoin="round"/><path d="M130.6,450.4 L134.5,457.1 L126.7,457.1 Z" fill="#c4c4c4" fill-opacity="0.7" stroke="#6a6a6a" stroke-width="1" stroke-linejoin="round"/><path d="M148.9,500.8 L152.8,507.5 L145.0,507.5 Z" fill="#c4c4c4" fill-opacity="0.7" stroke="#6a6a6a" stroke-width="1" stroke-linejoin="round"/><path d="M163.9,502.8 L167.8,509.5 L160.0,509.5 Z" fill="#c4c4c4" fill-opacity="0.7" stroke="#6a6a6a" stroke-width="1" stroke-linejoin="round"/><path d="M178.9,508.9 L182.8,515.6 L175.0,515.6 Z" fill="#c4c4c4" fill-opacity="0.7" stroke="#6a6a6a" stroke-width="1" stroke-linejoin="round"/><path d="M194.2,528.9 L198.1,535.6 L190.3,535.6 Z" fill="#c4c4c4" fill-opacity="0.7" stroke="#6a6a6a" stroke-width="1" stroke-linejoin="round"/><path d="M209.2,512.0 L213.1,518.7 L205.3,518.7 Z" fill="#c4c4c4" fill-opacity="0.7" stroke="#6a6a6a" stroke-width="1" stroke-linejoin="round"/><path d="M224.3,501.5 L228.2,508.2 L220.4,508.2 Z" fill="#c4c4c4" fill-opacity="0.7" stroke="#6a6a6a" stroke-width="1" stroke-linejoin="round"/><path d="M239.5,530.2 L243.4,536.9 L235.6,536.9 Z" fill="#c4c4c4" fill-opacity="0.7" stroke="#6a6a6a" stroke-width="1" stroke-linejoin="round"/><circle cx="58.5" cy="329.0" r="3.4" fill="#fcc4c4" fill-opacity="0.7" stroke="#ea6060" stroke-width="1"/><circle cx="59.8" cy="332.4" r="3.4" fill="#fcc4c4" fill-opacity="0.7" stroke="#ea6060" stroke-width="1"/><circle cx="61.2" cy="340.0" r="3.4" fill="#fcc4c4" fill-opacity="0.7" stroke="#ea6060" stroke-width="1"/><circle cx="62.7" cy="345.9" r="3.4" fill="#fcc4c4" fill-opacity="0.7" stroke="#ea6060" stroke-width="1"/><circle cx="64.5" cy="349.0" r="3.4" fill="#fcc4c4" fill-opacity="0.7" stroke="#ea6060" stroke-width="1"/><circle cx="66.5" cy="351.7" r="3.4" fill="#fcc4c4" fill-opacity="0.7" stroke="#ea6060" stroke-width="1"/><circle cx="69.5" cy="355.0" r="3.4" fill="#fcc4c4" fill-opacity="0.7" stroke="#ea6060" stroke-width="1"/><circle cx="72.3" cy="358.4" r="3.4" fill="#fcc4c4" fill-opacity="0.7" stroke="#ea6060" stroke-width="1"/><circle cx="74.2" cy="367.0" r="3.4" fill="#fcc4c4" fill-opacity="0.7" stroke="#ea6060" stroke-width="1"/><circle cx="76.0" cy="371.0" r="3.4" fill="#fcc4c4" fill-opacity="0.7" stroke="#ea6060" stroke-width="1"/><circle cx="78.1" cy="375.7" r="3.4" fill="#fcc4c4" fill-opacity="0.7" stroke="#ea6060" stroke-width="1"/><circle cx="81.0" cy="378.5" r="3.4" fill="#fcc4c4" fill-opacity="0.7" stroke="#ea6060" stroke-width="1"/><circle cx="83.8" cy="381.5" r="3.4" fill="#fcc4c4" fill-opacity="0.7" stroke="#ea6060" stroke-width="1"/><circle cx="86.0" cy="385.0" r="3.4" fill="#fcc4c4" fill-opacity="0.7" stroke="#ea6060" stroke-width="1"/><circle cx="88.7" cy="388.2" r="3.4" fill="#fcc4c4" fill-opacity="0.7" stroke="#ea6060" stroke-width="1"/><circle cx="91.5" cy="383.0" r="3.4" fill="#fcc4c4" fill-opacity="0.7" stroke="#ea6060" stroke-width="1"/><circle cx="94.4" cy="375.7" r="3.4" fill="#fcc4c4" fill-opacity="0.7" stroke="#ea6060" stroke-width="1"/><circle cx="95.4" cy="393.0" r="3.4" fill="#fcc4c4" fill-opacity="0.7" stroke="#ea6060" stroke-width="1"/><circle cx="99.0" cy="394.5" r="3.4" fill="#fcc4c4" fill-opacity="0.7" stroke="#ea6060" stroke-width="1"/><circle cx="103.1" cy="396.8" r="3.4" fill="#fcc4c4" fill-opacity="0.7" stroke="#ea6060" stroke-width="1"/><circle cx="110.8" cy="407.4" r="3.4" fill="#fcc4c4" fill-opacity="0.7" stroke="#ea6060" stroke-width="1"/><circle cx="118.5" cy="414.2" r="3.4" fill="#fcc4c4" fill-opacity="0.7" stroke="#ea6060" stroke-width="1"/><circle cx="126.2" cy="419.4" r="3.4" fill="#fcc4c4" fill-opacity="0.7" stroke="#ea6060" stroke-width="1"/><circle cx="132.9" cy="414.2" r="3.4" fill="#fcc4c4" fill-opacity="0.7" stroke="#ea6060" stroke-width="1"/><circle cx="140.9" cy="425.3" r="3.4" fill="#fcc4c4" fill-opacity="0.7" stroke="#ea6060" stroke-width="1"/><circle cx="148.9" cy="440.0" r="3.4" fill="#fcc4c4" fill-opacity="0.7" stroke="#ea6060" stroke-width="1"/><circle cx="163.9" cy="450.4" r="3.4" fill="#fcc4c4" fill-opacity="0.7" stroke="#ea6060" stroke-width="1"/><circle cx="178.9" cy="493.3" r="3.4" fill="#fcc4c4" fill-opacity="0.7" stroke="#ea6060" stroke-width="1"/><circle cx="194.2" cy="457.0" r="3.4" fill="#fcc4c4" fill-opacity="0.7" stroke="#ea6060" stroke-width="1"/><circle cx="209.2" cy="466.0" r="3.4" fill="#fcc4c4" fill-opacity="0.7" stroke="#ea6060" stroke-width="1"/><circle cx="239.5" cy="483.6" r="3.4" fill="#fcc4c4" fill-opacity="0.7" stroke="#ea6060" stroke-width="1"/><rect x="55.3" y="320.6" width="5.8" height="5.8" fill="#bcdcf8" fill-opacity="0.7" stroke="#5a9ae6" stroke-width="1"/><rect x="56.9" y="325.6" width="5.8" height="5.8" fill="#bcdcf8" fill-opacity="0.7" stroke="#5a9ae6" stroke-width="1"/><rect x="58.6" y="330.1" width="5.8" height="5.8" fill="#bcdcf8" fill-opacity="0.7" stroke="#5a9ae6" stroke-width="1"/><rect x="60.1" y="333.1" width="5.8" height="5.8" fill="#bcdcf8" fill-opacity="0.7" stroke="#5a9ae6" stroke-width="1"/><rect x="61.7" y="335.3" width="5.8" height="5.8" fill="#bcdcf8" fill-opacity="0.7" stroke="#5a9ae6" stroke-width="1"/><rect x="63.1" y="338.6" width="5.8" height="5.8" fill="#bcdcf8" fill-opacity="0.7" stroke="#5a9ae6" stroke-width="1"/><rect x="64.6" y="341.1" width="5.8" height="5.8" fill="#bcdcf8" fill-opacity="0.7" stroke="#5a9ae6" stroke-width="1"/><rect x="66.1" y="342.6" width="5.8" height="5.8" fill="#bcdcf8" fill-opacity="0.7" stroke="#5a9ae6" stroke-width="1"/><rect x="67.5" y="343.9" width="5.8" height="5.8" fill="#bcdcf8" fill-opacity="0.7" stroke="#5a9ae6" stroke-width="1"/><rect x="69.7" y="348.6" width="5.8" height="5.8" fill="#bcdcf8" fill-opacity="0.7" stroke="#5a9ae6" stroke-width="1"/><rect x="72.3" y="354.5" width="5.8" height="5.8" fill="#bcdcf8" fill-opacity="0.7" stroke="#5a9ae6" stroke-width="1"/><rect x="74.6" y="356.6" width="5.8" height="5.8" fill="#bcdcf8" fill-opacity="0.7" stroke="#5a9ae6" stroke-width="1"/><rect x="77.1" y="358.4" width="5.8" height="5.8" fill="#bcdcf8" fill-opacity="0.7" stroke="#5a9ae6" stroke-width="1"/><rect x="79.6" y="361.1" width="5.8" height="5.8" fill="#bcdcf8" fill-opacity="0.7" stroke="#5a9ae6" stroke-width="1"/><rect x="81.9" y="364.1" width="5.8" height="5.8" fill="#bcdcf8" fill-opacity="0.7" stroke="#5a9ae6" stroke-width="1"/><rect x="84.6" y="368.6" width="5.8" height="5.8" fill="#bcdcf8" fill-opacity="0.7" stroke="#5a9ae6" stroke-width="1"/><rect x="87.7" y="371.8" width="5.8" height="5.8" fill="#bcdcf8" fill-opacity="0.7" stroke="#5a9ae6" stroke-width="1"/><rect x="89.6" y="372.6" width="5.8" height="5.8" fill="#bcdcf8" fill-opacity="0.7" stroke="#5a9ae6" stroke-width="1"/><rect x="91.5" y="373.8" width="5.8" height="5.8" fill="#bcdcf8" fill-opacity="0.7" stroke="#5a9ae6" stroke-width="1"/><rect x="93.4" y="375.3" width="5.8" height="5.8" fill="#bcdcf8" fill-opacity="0.7" stroke="#5a9ae6" stroke-width="1"/><rect x="95.4" y="376.6" width="5.8" height="5.8" fill="#bcdcf8" fill-opacity="0.7" stroke="#5a9ae6" stroke-width="1"/><rect x="98.3" y="384.3" width="5.8" height="5.8" fill="#bcdcf8" fill-opacity="0.7" stroke="#5a9ae6" stroke-width="1"/><rect x="101.1" y="385.5" width="5.8" height="5.8" fill="#bcdcf8" fill-opacity="0.7" stroke="#5a9ae6" stroke-width="1"/><rect x="107.9" y="391.1" width="5.8" height="5.8" fill="#bcdcf8" fill-opacity="0.7" stroke="#5a9ae6" stroke-width="1"/><rect x="115.6" y="393.9" width="5.8" height="5.8" fill="#bcdcf8" fill-opacity="0.7" stroke="#5a9ae6" stroke-width="1"/><rect x="123.3" y="398.8" width="5.8" height="5.8" fill="#bcdcf8" fill-opacity="0.7" stroke="#5a9ae6" stroke-width="1"/><rect x="130.0" y="403.2" width="5.8" height="5.8" fill="#bcdcf8" fill-opacity="0.7" stroke="#5a9ae6" stroke-width="1"/><rect x="138.0" y="417.6" width="5.8" height="5.8" fill="#bcdcf8" fill-opacity="0.7" stroke="#5a9ae6" stroke-width="1"/><rect x="146.0" y="427.4" width="5.8" height="5.8" fill="#bcdcf8" fill-opacity="0.7" stroke="#5a9ae6" stroke-width="1"/><rect x="153.3" y="428.1" width="5.8" height="5.8" fill="#bcdcf8" fill-opacity="0.7" stroke="#5a9ae6" stroke-width="1"/><rect x="161.0" y="422.1" width="5.8" height="5.8" fill="#bcdcf8" fill-opacity="0.7" stroke="#5a9ae6" stroke-width="1"/><rect x="168.8" y="461.3" width="5.8" height="5.8" fill="#bcdcf8" fill-opacity="0.7" stroke="#5a9ae6" stroke-width="1"/><rect x="176.0" y="460.6" width="5.8" height="5.8" fill="#bcdcf8" fill-opacity="0.7" stroke="#5a9ae6" stroke-width="1"/><rect x="191.3" y="444.8" width="5.8" height="5.8" fill="#bcdcf8" fill-opacity="0.7" stroke="#5a9ae6" stroke-width="1"/><rect x="206.3" y="482.4" width="5.8" height="5.8" fill="#bcdcf8" fill-opacity="0.7" stroke="#5a9ae6" stroke-width="1"/><rect x="221.6" y="466.1" width="5.8" height="5.8" fill="#bcdcf8" fill-opacity="0.7" stroke="#5a9ae6" stroke-width="1"/><rect x="236.6" y="551.6" width="5.8" height="5.8" fill="#bcdcf8" fill-opacity="0.7" stroke="#5a9ae6" stroke-width="1"/><line x1="58.3" y1="335.1" x2="239.4" y2="547.9" stroke="#5570b8" stroke-width="1.3" stroke-dasharray="2.8 2.0"/><line x1="58.3" y1="333.6" x2="238.9" y2="601.0" stroke="#e66060" stroke-width="1.3" stroke-dasharray="2.8 2.0"/><line x1="58.3" y1="336.6" x2="170.7" y2="601.0" stroke="#4a4a4a" stroke-width="1.3" stroke-dasharray="2.8 2.0"/></g><rect x="58.3" y="319.8" width="196.2" height="281.2" fill="none" stroke="#333" stroke-width="1.3"/><line x1="58.3" y1="601.0" x2="58.3" y2="595.8" stroke="#333" stroke-width="1.2"/><line x1="58.3" y1="319.8" x2="58.3" y2="325.0" stroke="#333" stroke-width="1.2"/><text x="58.3" y="618.4" font-family="Liberation Sans, sans-serif" font-size="14.5" fill="#111" text-anchor="middle">0</text><line x1="73.4" y1="601.0" x2="73.4" y2="598.2" stroke="#333" stroke-width="1.2"/><line x1="73.4" y1="319.8" x2="73.4" y2="322.6" stroke="#333" stroke-width="1.2"/><line x1="88.5" y1="601.0" x2="88.5" y2="595.8" stroke="#333" stroke-width="1.2"/><line x1="88.5" y1="319.8" x2="88.5" y2="325.0" stroke="#333" stroke-width="1.2"/><text x="88.5" y="618.4" font-family="Liberation Sans, sans-serif" font-size="14.5" fill="#111" text-anchor="middle">20</text><line x1="103.6" y1="601.0" x2="103.6" y2="598.2" stroke="#333" stroke-width="1.2"/><line x1="103.6" y1="319.8" x2="103.6" y2="322.6" stroke="#333" stroke-width="1.2"/><line x1="118.7" y1="601.0" x2="118.7" y2="595.8" stroke="#333" stroke-width="1.2"/><line x1="118.7" y1="319.8" x2="118.7" y2="325.0" stroke="#333" stroke-width="1.2"/><text x="118.7" y="618.4" font-family="Liberation Sans, sans-serif" font-size="14.5" fill="#111" text-anchor="middle">40</text><line x1="133.8" y1="601.0" x2="133.8" y2="598.2" stroke="#333" stroke-width="1.2"/><line x1="133.8" y1="319.8" x2="133.8" y2="322.6" stroke="#333" stroke-width="1.2"/><line x1="148.8" y1="601.0" x2="148.8" y2="595.8" stroke="#333" stroke-width="1.2"/><line x1="148.8" y1="319.8" x2="148.8" y2="325.0" stroke="#333" stroke-width="1.2"/><text x="148.8" y="618.4" font-family="Liberation Sans, sans-serif" font-size="14.5" fill="#111" text-anchor="middle">60</text><line x1="163.9" y1="601.0" x2="163.9" y2="598.2" stroke="#333" stroke-width="1.2"/><line x1="163.9" y1="319.8" x2="163.9" y2="322.6" stroke="#333" stroke-width="1.2"/><line x1="179.0" y1="601.0" x2="179.0" y2="595.8" stroke="#333" stroke-width="1.2"/><line x1="179.0" y1="319.8" x2="179.0" y2="325.0" stroke="#333" stroke-width="1.2"/><text x="179.0" y="618.4" font-family="Liberation Sans, sans-serif" font-size="14.5" fill="#111" text-anchor="middle">80</text><line x1="194.1" y1="601.0" x2="194.1" y2="598.2" stroke="#333" stroke-width="1.2"/><line x1="194.1" y1="319.8" x2="194.1" y2="322.6" stroke="#333" stroke-width="1.2"/><line x1="209.2" y1="601.0" x2="209.2" y2="595.8" stroke="#333" stroke-width="1.2"/><line x1="209.2" y1="319.8" x2="209.2" y2="325.0" stroke="#333" stroke-width="1.2"/><text x="209.2" y="618.4" font-family="Liberation Sans, sans-serif" font-size="14.5" fill="#111" text-anchor="middle">100</text><line x1="224.3" y1="601.0" x2="224.3" y2="598.2" stroke="#333" stroke-width="1.2"/><line x1="224.3" y1="319.8" x2="224.3" y2="322.6" stroke="#333" stroke-width="1.2"/><line x1="239.4" y1="601.0" x2="239.4" y2="595.8" stroke="#333" stroke-width="1.2"/><line x1="239.4" y1="319.8" x2="239.4" y2="325.0" stroke="#333" stroke-width="1.2"/><text x="239.4" y="618.4" font-family="Liberation Sans, sans-serif" font-size="14.5" fill="#111" text-anchor="middle">120</text><line x1="254.5" y1="601.0" x2="254.5" y2="598.2" stroke="#333" stroke-width="1.2"/><line x1="254.5" y1="319.8" x2="254.5" y2="322.6" stroke="#333" stroke-width="1.2"/><line x1="58.3" y1="600.2" x2="61.3" y2="600.2" stroke="#333" stroke-width="1.2"/><line x1="254.5" y1="600.2" x2="251.5" y2="600.2" stroke="#333" stroke-width="1.2"/><line x1="58.3" y1="594.8" x2="61.3" y2="594.8" stroke="#333" stroke-width="1.2"/><line x1="254.5" y1="594.8" x2="251.5" y2="594.8" stroke="#333" stroke-width="1.2"/><line x1="58.3" y1="590.1" x2="63.8" y2="590.1" stroke="#333" stroke-width="1.2"/><line x1="254.5" y1="590.1" x2="249.0" y2="590.1" stroke="#333" stroke-width="1.2"/><text x="52.3" y="595.4" font-family="Liberation Sans, sans-serif" font-size="14" fill="#111" text-anchor="end">10<tspan font-size="9.5" dy="-6">11</tspan></text><line x1="58.3" y1="558.9" x2="61.3" y2="558.9" stroke="#333" stroke-width="1.2"/><line x1="254.5" y1="558.9" x2="251.5" y2="558.9" stroke="#333" stroke-width="1.2"/><line x1="58.3" y1="540.6" x2="61.3" y2="540.6" stroke="#333" stroke-width="1.2"/><line x1="254.5" y1="540.6" x2="251.5" y2="540.6" stroke="#333" stroke-width="1.2"/><line x1="58.3" y1="527.6" x2="61.3" y2="527.6" stroke="#333" stroke-width="1.2"/><line x1="254.5" y1="527.6" x2="251.5" y2="527.6" stroke="#333" stroke-width="1.2"/><line x1="58.3" y1="517.5" x2="61.3" y2="517.5" stroke="#333" stroke-width="1.2"/><line x1="254.5" y1="517.5" x2="251.5" y2="517.5" stroke="#333" stroke-width="1.2"/><line x1="58.3" y1="509.3" x2="61.3" y2="509.3" stroke="#333" stroke-width="1.2"/><line x1="254.5" y1="509.3" x2="251.5" y2="509.3" stroke="#333" stroke-width="1.2"/><line x1="58.3" y1="502.4" x2="61.3" y2="502.4" stroke="#333" stroke-width="1.2"/><line x1="254.5" y1="502.4" x2="251.5" y2="502.4" stroke="#333" stroke-width="1.2"/><line x1="58.3" y1="496.4" x2="61.3" y2="496.4" stroke="#333" stroke-width="1.2"/><line x1="254.5" y1="496.4" x2="251.5" y2="496.4" stroke="#333" stroke-width="1.2"/><line x1="58.3" y1="491.0" x2="61.3" y2="491.0" stroke="#333" stroke-width="1.2"/><line x1="254.5" y1="491.0" x2="251.5" y2="491.0" stroke="#333" stroke-width="1.2"/><line x1="58.3" y1="486.3" x2="63.8" y2="486.3" stroke="#333" stroke-width="1.2"/><line x1="254.5" y1="486.3" x2="249.0" y2="486.3" stroke="#333" stroke-width="1.2"/><text x="52.3" y="491.6" font-family="Liberation Sans, sans-serif" font-size="14" fill="#111" text-anchor="end">10<tspan font-size="9.5" dy="-6">12</tspan></text><line x1="58.3" y1="455.1" x2="61.3" y2="455.1" stroke="#333" stroke-width="1.2"/><line x1="254.5" y1="455.1" x2="251.5" y2="455.1" stroke="#333" stroke-width="1.2"/><line x1="58.3" y1="436.8" x2="61.3" y2="436.8" stroke="#333" stroke-width="1.2"/><line x1="254.5" y1="436.8" x2="251.5" y2="436.8" stroke="#333" stroke-width="1.2"/><line x1="58.3" y1="423.8" x2="61.3" y2="423.8" stroke="#333" stroke-width="1.2"/><line x1="254.5" y1="423.8" x2="251.5" y2="423.8" stroke="#333" stroke-width="1.2"/><line x1="58.3" y1="413.7" x2="61.3" y2="413.7" stroke="#333" stroke-width="1.2"/><line x1="254.5" y1="413.7" x2="251.5" y2="413.7" stroke="#333" stroke-width="1.2"/><line x1="58.3" y1="405.5" x2="61.3" y2="405.5" stroke="#333" stroke-width="1.2"/><line x1="254.5" y1="405.5" x2="251.5" y2="405.5" stroke="#333" stroke-width="1.2"/><line x1="58.3" y1="398.6" x2="61.3" y2="398.6" stroke="#333" stroke-width="1.2"/><line x1="254.5" y1="398.6" x2="251.5" y2="398.6" stroke="#333" stroke-width="1.2"/><line x1="58.3" y1="392.6" x2="61.3" y2="392.6" stroke="#333" stroke-width="1.2"/><line x1="254.5" y1="392.6" x2="251.5" y2="392.6" stroke="#333" stroke-width="1.2"/><line x1="58.3" y1="387.2" x2="61.3" y2="387.2" stroke="#333" stroke-width="1.2"/><line x1="254.5" y1="387.2" x2="251.5" y2="387.2" stroke="#333" stroke-width="1.2"/><line x1="58.3" y1="382.5" x2="63.8" y2="382.5" stroke="#333" stroke-width="1.2"/><line x1="254.5" y1="382.5" x2="249.0" y2="382.5" stroke="#333" stroke-width="1.2"/><text x="52.3" y="387.8" font-family="Liberation Sans, sans-serif" font-size="14" fill="#111" text-anchor="end">10<tspan font-size="9.5" dy="-6">13</tspan></text><line x1="58.3" y1="351.3" x2="61.3" y2="351.3" stroke="#333" stroke-width="1.2"/><line x1="254.5" y1="351.3" x2="251.5" y2="351.3" stroke="#333" stroke-width="1.2"/><line x1="58.3" y1="333.0" x2="61.3" y2="333.0" stroke="#333" stroke-width="1.2"/><line x1="254.5" y1="333.0" x2="251.5" y2="333.0" stroke="#333" stroke-width="1.2"/><line x1="58.3" y1="320.0" x2="61.3" y2="320.0" stroke="#333" stroke-width="1.2"/><line x1="254.5" y1="320.0" x2="251.5" y2="320.0" stroke="#333" stroke-width="1.2"/><text x="156.3" y="648.5" font-family="Liberation Sans, sans-serif" font-size="19" fill="#111" text-anchor="middle">Δt [μs]</text><text transform="translate(18.8,461) rotate(-90)" font-family="Liberation Sans, sans-serif" font-size="19" fill="#111" text-anchor="middle">Δn [cm<tspan font-size="12.5" dy="-7.5">-3</tspan><tspan dy="7.5">]</tspan></text><text x="67.5" y="584.8" font-family="Liberation Sans, sans-serif" font-size="22" fill="#111">(b)</text><rect x="101.5" y="329" width="146.6" height="45" fill="#fff" stroke="#9a9a9a" stroke-width="1"/><rect x="109.4" y="333.7" width="5.8" height="5.8" fill="#bcdcf8" fill-opacity="0.7" stroke="#5a9ae6" stroke-width="1"/><circle cx="112.3" cy="351.2" r="3.4" fill="#fcc4c4" fill-opacity="0.7" stroke="#ea6060" stroke-width="1"/><path d="M112.3,361.8 L116.2,368.5 L108.4,368.5 Z" fill="#c4c4c4" fill-opacity="0.7" stroke="#6a6a6a" stroke-width="1" stroke-linejoin="round"/><text x="126" y="340.4" font-family="Liberation Sans, sans-serif" font-size="9.4" fill="#111">1 Ωcm (τ<tspan font-size="6.2" dy="2.6">exponential</tspan><tspan dy="-2.6"> = 25.6 μs)</tspan></text><text x="126" y="354.8" font-family="Liberation Sans, sans-serif" font-size="9.4" fill="#111">0.6 Ωcm (τ<tspan font-size="6.2" dy="2.6">exponential</tspan><tspan dy="-2.6"> = 20.7 μs)</tspan></text><text x="126" y="369.2" font-family="Liberation Sans, sans-serif" font-size="9.4" fill="#111">0.3 Ωcm (τ<tspan font-size="6.2" dy="2.6">exponential</tspan><tspan dy="-2.6"> = 12.7 μs)</tspan></text>
<clipPath id="cclip"><rect x="316.3" y="319.8" width="196.3" height="280.99999999999994"/></clipPath><g clip-path="url(#cclip)"><line x1="316.3" y1="447.5" x2="413.5" y2="447.5" stroke="#6262dc" stroke-width="1.1"/><line x1="410.5" y1="442.6" x2="416.5" y2="442.6" stroke="#6262dc" stroke-width="1.1"/><line x1="410.5" y1="452.4" x2="416.5" y2="452.4" stroke="#6262dc" stroke-width="1.1"/><line x1="413.5" y1="442.6" x2="413.5" y2="452.4" stroke="#6262dc" stroke-width="1.1"/><line x1="328.7" y1="465.3" x2="409.5" y2="465.3" stroke="#e66070" stroke-width="1.1"/><line x1="328.7" y1="460.5" x2="328.7" y2="470.3" stroke="#e66070" stroke-width="1.1"/><line x1="325.7" y1="460.5" x2="331.7" y2="460.5" stroke="#e66070" stroke-width="1.1"/><line x1="325.7" y1="470.3" x2="331.7" y2="470.3" stroke="#e66070" stroke-width="1.1"/><line x1="409.5" y1="460.5" x2="409.5" y2="470.3" stroke="#e66070" stroke-width="1.1"/><line x1="406.5" y1="460.5" x2="412.5" y2="460.5" stroke="#e66070" stroke-width="1.1"/><line x1="406.5" y1="470.3" x2="412.5" y2="470.3" stroke="#e66070" stroke-width="1.1"/><line x1="316.3" y1="505.5" x2="416.5" y2="505.5" stroke="#222" stroke-width="1.1"/><line x1="409.5" y1="505.5" x2="416.5" y2="505.5" stroke="#222" stroke-width="2.2"/><path d="M316.51,579.70 L317.86,575.50 L319.27,571.29 L320.73,567.08 L322.25,562.87 L323.82,558.67 L325.45,554.47 L327.13,550.28 L328.88,546.10 L330.67,541.93 L332.53,537.77 L334.43,533.63 L336.40,529.51 L338.42,525.41 L340.50,521.33 L342.63,517.27 L344.82,513.24 L347.07,509.24 L349.37,505.26 L351.72,501.33 L354.14,497.42 L356.61,493.55 L359.14,489.72 L361.72,485.93 L364.36,482.19 L367.05,478.49 L369.81,474.83 L372.61,471.22 L375.48,467.67 L378.40,464.17 L381.38,460.72 L384.41,457.33 L387.50,454.00 L390.65,450.73 L393.85,447.53 L397.12,444.39 L400.43,441.31 L403.81,438.31 L407.24,435.38 L410.73,432.52 L414.27,429.74 L417.87,427.04 L421.53,424.41 L425.25,421.87 L429.02,419.41 L432.85,417.04 L436.73,414.76 L440.68,412.56 L444.68,410.46 L448.73,408.46 L452.85,406.55 L457.02,404.73 L461.25,403.02 L465.53,401.42 L469.88,399.91 L474.28,398.52 L478.73,397.23 L483.25,396.05 L487.82,394.99 L492.45,394.04" fill="none" stroke="url(#ggrad)" stroke-width="8.8" stroke-linejoin="round"/><path d="M317.51,579.70 L318.86,575.50 L320.27,571.29 L321.73,567.08 L323.25,562.87 L324.82,558.67 L326.45,554.47 L328.13,550.28 L329.88,546.10 L331.67,541.93 L333.53,537.77 L335.43,533.63 L337.40,529.51 L339.42,525.41 L341.50,521.33 L343.63,517.27 L345.82,513.24 L348.07,509.24 L350.37,505.26 L352.72,501.33 L355.14,497.42 L357.61,493.55 L360.14,489.72 L362.72,485.93 L365.36,482.19 L368.05,478.49 L370.81,474.83 L373.61,471.22 L376.48,467.67 L379.40,464.17 L382.38,460.72 L385.41,457.33" fill="none" stroke="url(#ggrad3)" stroke-width="10.5" stroke-linejoin="round"/><path d="M317.51,579.70 L318.86,575.50 L320.27,571.29 L321.73,567.08 L323.25,562.87 L324.82,558.67 L326.45,554.47 L328.13,550.28 L329.88,546.10 L331.67,541.93 L333.53,537.77 L335.43,533.63 L337.40,529.51 L339.42,525.41 L341.50,521.33 L343.63,517.27 L345.82,513.24 L348.07,509.24 L350.37,505.26 L352.72,501.33 L355.14,497.42 L357.61,493.55 L360.14,489.72 L362.72,485.93 L365.36,482.19 L368.05,478.49 L370.81,474.83 L373.61,471.22 L376.48,467.67 L379.40,464.17 L382.38,460.72 L385.41,457.33" fill="none" stroke="url(#ggrad2)" stroke-width="7.6" stroke-linejoin="round"/><path d="M317.51,579.70 L318.86,575.50 L320.27,571.29 L321.73,567.08 L323.25,562.87 L324.82,558.67 L326.45,554.47 L328.13,550.28 L329.88,546.10 L331.67,541.93 L333.53,537.77 L335.43,533.63 L337.40,529.51 L339.42,525.41 L341.50,521.33 L343.63,517.27 L345.82,513.24 L348.07,509.24 L350.37,505.26 L352.72,501.33 L355.14,497.42 L357.61,493.55 L360.14,489.72 L362.72,485.93 L365.36,482.19 L368.05,478.49" fill="none" stroke="#e8e8e8" stroke-width="0.9" stroke-dasharray="1.2 1" opacity="0.55"/><path d="M347.82,482.42 L349.17,479.08 L350.59,475.78 L352.08,472.54 L353.62,469.34 L355.23,466.19 L356.90,463.09 L358.62,460.03 L360.40,457.02 L362.24,454.06 L364.14,451.14 L366.09,448.27 L368.09,445.44 L370.14,442.66 L372.25,439.92 L374.40,437.23 L376.61,434.58 L378.86,431.98 L381.16,429.41 L383.51,426.90 L385.89,424.42 L388.33,421.98 L390.80,419.59 L393.32,417.24 L395.87,414.93 L398.47,412.66 L401.10,410.43 L403.77,408.24 L406.48,406.09 L409.22,403.98 L411.99,401.91 L414.80,399.88 L417.64,397.89 L420.51,395.93 L423.40,394.01 L426.33,392.13 L429.28,390.29 L432.26,388.48 L435.26,386.71 L438.29,384.98 L441.34,383.28 L444.41,381.62 L447.50,379.99 L450.61,378.40 L453.74,376.84 L456.89,375.31 L460.05,373.82 L463.23,372.36 L466.42,370.93 L469.62,369.54 L472.84,368.18 L476.07,366.85 L479.30,365.55 L482.55,364.29 L485.80,363.05 L489.05,361.84 L492.32,360.67 L495.58,359.52 L498.85,358.41 L502.13,357.32" fill="none" stroke="#f01414" stroke-width="7.2" stroke-linejoin="round" stroke-linecap="round"/><circle cx="346.4" cy="481.8" r="3.1" fill="#ffd0c8" stroke="#f01414" stroke-width="0.8"/><path d="M353.83,459.55 L355.29,456.32 L356.81,453.11 L358.38,449.92 L360.01,446.75 L361.70,443.59 L363.44,440.46 L365.24,437.34 L367.09,434.25 L368.99,431.18 L370.94,428.14 L372.95,425.12 L375.01,422.12 L377.11,419.16 L379.27,416.21 L381.47,413.30 L383.72,410.42 L386.01,407.56 L388.35,404.74 L390.74,401.95 L393.17,399.19 L395.64,396.47 L398.16,393.78 L400.71,391.12 L403.31,388.50 L405.95,385.92 L408.62,383.38 L411.34,380.88 L414.09,378.41 L416.88,375.99 L419.70,373.61 L422.56,371.27 L425.45,368.97 L428.38,366.72 L431.34,364.52 L434.33,362.36 L437.35,360.24 L440.40,358.18 L443.48,356.16 L446.59,354.20 L449.73,352.28 L452.89,350.42 L456.08,348.60 L459.30,346.85 L462.53,345.14 L465.80,343.49 L469.08,341.90 L472.39,340.36 L475.72,338.89 L479.07,337.47 L482.44,336.11 L485.83,334.81 L489.24,333.57 L492.66,332.39 L496.10,331.28 L499.55,330.23 L503.02,329.25 L506.51,328.33 L510.01,327.48 L513.52,326.70" fill="none" stroke="url(#bgrad)" stroke-width="8.6" stroke-linejoin="round"/><path d="M353.83,459.55 L355.29,456.32 L356.81,453.11 L358.38,449.92 L360.01,446.75 L361.70,443.59 L363.44,440.46 L365.24,437.34 L367.09,434.25 L368.99,431.18 L370.94,428.14 L372.95,425.12 L375.01,422.12 L377.11,419.16 L379.27,416.21 L381.47,413.30 L383.72,410.42 L386.01,407.56 L388.35,404.74 L390.74,401.95 L393.17,399.19 L395.64,396.47 L398.16,393.78 L400.71,391.12 L403.31,388.50 L405.95,385.92 L408.62,383.38 L411.34,380.88 L414.09,378.41 L416.88,375.99 L419.70,373.61 L422.56,371.27 L425.45,368.97 L428.38,366.72 L431.34,364.52 L434.33,362.36 L437.35,360.24 L440.40,358.18 L443.48,356.16 L446.59,354.20 L449.73,352.28 L452.89,350.42 L456.08,348.60 L459.30,346.85 L462.53,345.14 L465.80,343.49 L469.08,341.90 L472.39,340.36 L475.72,338.89 L479.07,337.47 L482.44,336.11 L485.83,334.81 L489.24,333.57 L492.66,332.39 L496.10,331.28 L499.55,330.23 L503.02,329.25 L506.51,328.33 L510.01,327.48 L513.52,326.70" fill="none" stroke="url(#bgrad2)" stroke-width="5.4" stroke-linejoin="round"/><rect x="350.8" y="456.6" width="6" height="6" fill="#c8ecff" stroke="#70b8f0" stroke-width="1"/></g><rect x="316.3" y="319.8" width="196.3" height="281.0" fill="none" stroke="#333" stroke-width="1.3"/><line x1="317.1" y1="600.8" x2="317.1" y2="598.0" stroke="#333" stroke-width="1.1"/><line x1="317.1" y1="319.8" x2="317.1" y2="322.6" stroke="#333" stroke-width="1.1"/><line x1="321.2" y1="600.8" x2="321.2" y2="598.0" stroke="#333" stroke-width="1.1"/><line x1="321.2" y1="319.8" x2="321.2" y2="322.6" stroke="#333" stroke-width="1.1"/><line x1="324.7" y1="600.8" x2="324.7" y2="598.0" stroke="#333" stroke-width="1.1"/><line x1="324.7" y1="319.8" x2="324.7" y2="322.6" stroke="#333" stroke-width="1.1"/><line x1="327.7" y1="600.8" x2="327.7" y2="598.0" stroke="#333" stroke-width="1.1"/><line x1="327.7" y1="319.8" x2="327.7" y2="322.6" stroke="#333" stroke-width="1.1"/><line x1="330.3" y1="600.8" x2="330.3" y2="598.0" stroke="#333" stroke-width="1.1"/><line x1="330.3" y1="319.8" x2="330.3" y2="322.6" stroke="#333" stroke-width="1.1"/><line x1="332.7" y1="600.8" x2="332.7" y2="595.5999999999999" stroke="#333" stroke-width="1.1"/><line x1="332.7" y1="319.8" x2="332.7" y2="325.0" stroke="#333" stroke-width="1.1"/><text x="332.2" y="620.4" font-family="Liberation Sans, sans-serif" font-size="14" fill="#111" text-anchor="middle">10<tspan font-size="9.5" dy="-6">12</tspan></text><line x1="348.3" y1="600.8" x2="348.3" y2="598.0" stroke="#333" stroke-width="1.1"/><line x1="348.3" y1="319.8" x2="348.3" y2="322.6" stroke="#333" stroke-width="1.1"/><line x1="357.4" y1="600.8" x2="357.4" y2="598.0" stroke="#333" stroke-width="1.1"/><line x1="357.4" y1="319.8" x2="357.4" y2="322.6" stroke="#333" stroke-width="1.1"/><line x1="363.9" y1="600.8" x2="363.9" y2="598.0" stroke="#333" stroke-width="1.1"/><line x1="363.9" y1="319.8" x2="363.9" y2="322.6" stroke="#333" stroke-width="1.1"/><line x1="369.0" y1="600.8" x2="369.0" y2="598.0" stroke="#333" stroke-width="1.1"/><line x1="369.0" y1="319.8" x2="369.0" y2="322.6" stroke="#333" stroke-width="1.1"/><line x1="373.1" y1="600.8" x2="373.1" y2="598.0" stroke="#333" stroke-width="1.1"/><line x1="373.1" y1="319.8" x2="373.1" y2="322.6" stroke="#333" stroke-width="1.1"/><line x1="376.5" y1="600.8" x2="376.5" y2="598.0" stroke="#333" stroke-width="1.1"/><line x1="376.5" y1="319.8" x2="376.5" y2="322.6" stroke="#333" stroke-width="1.1"/><line x1="379.5" y1="600.8" x2="379.5" y2="598.0" stroke="#333" stroke-width="1.1"/><line x1="379.5" y1="319.8" x2="379.5" y2="322.6" stroke="#333" stroke-width="1.1"/><line x1="382.2" y1="600.8" x2="382.2" y2="598.0" stroke="#333" stroke-width="1.1"/><line x1="382.2" y1="319.8" x2="382.2" y2="322.6" stroke="#333" stroke-width="1.1"/><line x1="384.6" y1="600.8" x2="384.6" y2="595.5999999999999" stroke="#333" stroke-width="1.1"/><line x1="384.6" y1="319.8" x2="384.6" y2="325.0" stroke="#333" stroke-width="1.1"/><text x="384.1" y="620.4" font-family="Liberation Sans, sans-serif" font-size="14" fill="#111" text-anchor="middle">10<tspan font-size="9.5" dy="-6">13</tspan></text><line x1="400.2" y1="600.8" x2="400.2" y2="598.0" stroke="#333" stroke-width="1.1"/><line x1="400.2" y1="319.8" x2="400.2" y2="322.6" stroke="#333" stroke-width="1.1"/><line x1="409.3" y1="600.8" x2="409.3" y2="598.0" stroke="#333" stroke-width="1.1"/><line x1="409.3" y1="319.8" x2="409.3" y2="322.6" stroke="#333" stroke-width="1.1"/><line x1="415.8" y1="600.8" x2="415.8" y2="598.0" stroke="#333" stroke-width="1.1"/><line x1="415.8" y1="319.8" x2="415.8" y2="322.6" stroke="#333" stroke-width="1.1"/><line x1="420.8" y1="600.8" x2="420.8" y2="598.0" stroke="#333" stroke-width="1.1"/><line x1="420.8" y1="319.8" x2="420.8" y2="322.6" stroke="#333" stroke-width="1.1"/><line x1="424.9" y1="600.8" x2="424.9" y2="598.0" stroke="#333" stroke-width="1.1"/><line x1="424.9" y1="319.8" x2="424.9" y2="322.6" stroke="#333" stroke-width="1.1"/><line x1="428.4" y1="600.8" x2="428.4" y2="598.0" stroke="#333" stroke-width="1.1"/><line x1="428.4" y1="319.8" x2="428.4" y2="322.6" stroke="#333" stroke-width="1.1"/><line x1="431.4" y1="600.8" x2="431.4" y2="598.0" stroke="#333" stroke-width="1.1"/><line x1="431.4" y1="319.8" x2="431.4" y2="322.6" stroke="#333" stroke-width="1.1"/><line x1="434.1" y1="600.8" x2="434.1" y2="598.0" stroke="#333" stroke-width="1.1"/><line x1="434.1" y1="319.8" x2="434.1" y2="322.6" stroke="#333" stroke-width="1.1"/><line x1="436.4" y1="600.8" x2="436.4" y2="595.5999999999999" stroke="#333" stroke-width="1.1"/><line x1="436.4" y1="319.8" x2="436.4" y2="325.0" stroke="#333" stroke-width="1.1"/><text x="435.9" y="620.4" font-family="Liberation Sans, sans-serif" font-size="14" fill="#111" text-anchor="middle">10<tspan font-size="9.5" dy="-6">14</tspan></text><line x1="452.1" y1="600.8" x2="452.1" y2="598.0" stroke="#333" stroke-width="1.1"/><line x1="452.1" y1="319.8" x2="452.1" y2="322.6" stroke="#333" stroke-width="1.1"/><line x1="461.2" y1="600.8" x2="461.2" y2="598.0" stroke="#333" stroke-width="1.1"/><line x1="461.2" y1="319.8" x2="461.2" y2="322.6" stroke="#333" stroke-width="1.1"/><line x1="467.7" y1="600.8" x2="467.7" y2="598.0" stroke="#333" stroke-width="1.1"/><line x1="467.7" y1="319.8" x2="467.7" y2="322.6" stroke="#333" stroke-width="1.1"/><line x1="472.7" y1="600.8" x2="472.7" y2="598.0" stroke="#333" stroke-width="1.1"/><line x1="472.7" y1="319.8" x2="472.7" y2="322.6" stroke="#333" stroke-width="1.1"/><line x1="476.8" y1="600.8" x2="476.8" y2="598.0" stroke="#333" stroke-width="1.1"/><line x1="476.8" y1="319.8" x2="476.8" y2="322.6" stroke="#333" stroke-width="1.1"/><line x1="480.3" y1="600.8" x2="480.3" y2="598.0" stroke="#333" stroke-width="1.1"/><line x1="480.3" y1="319.8" x2="480.3" y2="322.6" stroke="#333" stroke-width="1.1"/><line x1="483.3" y1="600.8" x2="483.3" y2="598.0" stroke="#333" stroke-width="1.1"/><line x1="483.3" y1="319.8" x2="483.3" y2="322.6" stroke="#333" stroke-width="1.1"/><line x1="485.9" y1="600.8" x2="485.9" y2="598.0" stroke="#333" stroke-width="1.1"/><line x1="485.9" y1="319.8" x2="485.9" y2="322.6" stroke="#333" stroke-width="1.1"/><line x1="488.3" y1="600.8" x2="488.3" y2="595.5999999999999" stroke="#333" stroke-width="1.1"/><line x1="488.3" y1="319.8" x2="488.3" y2="325.0" stroke="#333" stroke-width="1.1"/><text x="487.8" y="620.4" font-family="Liberation Sans, sans-serif" font-size="14" fill="#111" text-anchor="middle">10<tspan font-size="9.5" dy="-6">15</tspan></text><line x1="503.9" y1="600.8" x2="503.9" y2="598.0" stroke="#333" stroke-width="1.1"/><line x1="503.9" y1="319.8" x2="503.9" y2="322.6" stroke="#333" stroke-width="1.1"/><line x1="316.3" y1="582.7" x2="319.3" y2="582.7" stroke="#333" stroke-width="1.1"/><line x1="512.6" y1="582.7" x2="509.6" y2="582.7" stroke="#333" stroke-width="1.1"/><line x1="316.3" y1="567.6" x2="319.3" y2="567.6" stroke="#333" stroke-width="1.1"/><line x1="512.6" y1="567.6" x2="509.6" y2="567.6" stroke="#333" stroke-width="1.1"/><line x1="316.3" y1="554.8" x2="319.3" y2="554.8" stroke="#333" stroke-width="1.1"/><line x1="512.6" y1="554.8" x2="509.6" y2="554.8" stroke="#333" stroke-width="1.1"/><line x1="316.3" y1="543.8" x2="319.3" y2="543.8" stroke="#333" stroke-width="1.1"/><line x1="512.6" y1="543.8" x2="509.6" y2="543.8" stroke="#333" stroke-width="1.1"/><line x1="316.3" y1="534.0" x2="319.3" y2="534.0" stroke="#333" stroke-width="1.1"/><line x1="512.6" y1="534.0" x2="509.6" y2="534.0" stroke="#333" stroke-width="1.1"/><line x1="316.3" y1="525.3" x2="321.8" y2="525.3" stroke="#333" stroke-width="1.1"/><line x1="512.6" y1="525.3" x2="507.1" y2="525.3" stroke="#333" stroke-width="1.1"/><text x="310" y="530.4" font-family="Liberation Sans, sans-serif" font-size="14" fill="#111" text-anchor="end">10</text><line x1="316.3" y1="467.9" x2="319.3" y2="467.9" stroke="#333" stroke-width="1.1"/><line x1="512.6" y1="467.9" x2="509.6" y2="467.9" stroke="#333" stroke-width="1.1"/><line x1="316.3" y1="434.3" x2="319.3" y2="434.3" stroke="#333" stroke-width="1.1"/><line x1="512.6" y1="434.3" x2="509.6" y2="434.3" stroke="#333" stroke-width="1.1"/><line x1="316.3" y1="410.5" x2="319.3" y2="410.5" stroke="#333" stroke-width="1.1"/><line x1="512.6" y1="410.5" x2="509.6" y2="410.5" stroke="#333" stroke-width="1.1"/><line x1="316.3" y1="392.0" x2="319.3" y2="392.0" stroke="#333" stroke-width="1.1"/><line x1="512.6" y1="392.0" x2="509.6" y2="392.0" stroke="#333" stroke-width="1.1"/><line x1="316.3" y1="376.9" x2="319.3" y2="376.9" stroke="#333" stroke-width="1.1"/><line x1="512.6" y1="376.9" x2="509.6" y2="376.9" stroke="#333" stroke-width="1.1"/><line x1="316.3" y1="364.1" x2="319.3" y2="364.1" stroke="#333" stroke-width="1.1"/><line x1="512.6" y1="364.1" x2="509.6" y2="364.1" stroke="#333" stroke-width="1.1"/><line x1="316.3" y1="353.1" x2="319.3" y2="353.1" stroke="#333" stroke-width="1.1"/><line x1="512.6" y1="353.1" x2="509.6" y2="353.1" stroke="#333" stroke-width="1.1"/><line x1="316.3" y1="343.3" x2="319.3" y2="343.3" stroke="#333" stroke-width="1.1"/><line x1="512.6" y1="343.3" x2="509.6" y2="343.3" stroke="#333" stroke-width="1.1"/><line x1="316.3" y1="334.6" x2="321.8" y2="334.6" stroke="#333" stroke-width="1.1"/><line x1="512.6" y1="334.6" x2="507.1" y2="334.6" stroke="#333" stroke-width="1.1"/><text x="310" y="339.7" font-family="Liberation Sans, sans-serif" font-size="14" fill="#111" text-anchor="end">100</text><text x="414.5" y="646.8" font-family="Liberation Sans, sans-serif" font-size="19" fill="#111" text-anchor="middle">Δn [cm<tspan font-size="12.5" dy="-7.5">-3</tspan><tspan dy="7.5">]</tspan></text><text transform="translate(281.2,460) rotate(-90)" font-family="Liberation Sans, sans-serif" font-size="19" fill="#111" text-anchor="middle">Effective lifetime [μs]</text><text x="329.7" y="347.4" font-family="Liberation Sans, sans-serif" font-size="22" fill="#111">(c)</text><rect x="368" y="519.5" width="135.2" height="72" fill="#fff" stroke="#9a9a9a" stroke-width="1"/><text x="425.5" y="533" font-family="Liberation Sans, sans-serif" font-size="12" fill="#111">τ<tspan font-size="9" dy="3">PL</tspan></text><text x="453" y="533" font-family="Liberation Sans, sans-serif" font-size="12" fill="#111">τ<tspan font-size="8.4" dy="3">exponential</tspan></text><text x="370.3" y="554.2" font-family="Liberation Sans, sans-serif" font-size="12.6" fill="#111">1 Ωcm</text><text x="370.3" y="570.7" font-family="Liberation Sans, sans-serif" font-size="12.6" fill="#111">0.6 Ωcm</text><text x="370.3" y="587.3" font-family="Liberation Sans, sans-serif" font-size="12.6" fill="#111">0.3 Ωcm</text><rect x="432" y="546.6" width="6" height="6" fill="#a8dcf8"/><circle cx="435" cy="566.5" r="3.3" fill="#f8b8b8" stroke="#e85050" stroke-width="1"/><path d="M435.5,578.8 L439.4,585.5 L431.6,585.5 Z" fill="#b8b8b8" stroke="#606060" stroke-width="1"/><line x1="463.4" y1="549.6" x2="492" y2="549.6" stroke="#6060e0" stroke-width="1.1"/><line x1="463.4" y1="566.5" x2="492" y2="566.5" stroke="#f05070" stroke-width="1.1"/><line x1="463.4" y1="583.5" x2="492" y2="583.5" stroke="#444" stroke-width="1.1"/>
</svg>
</body></html>
